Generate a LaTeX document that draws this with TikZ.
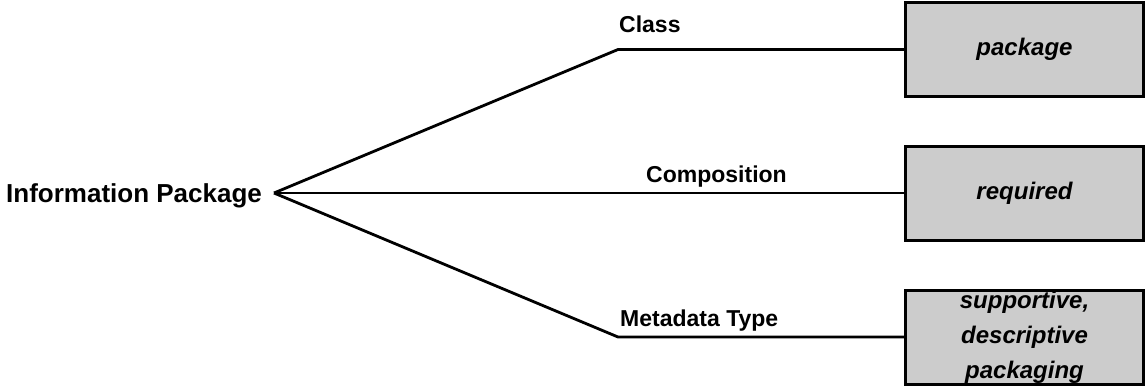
\documentclass[tikz,border=0pt]{standalone}
\usepackage{fontspec}
\setmainfont{Liberation Sans}
\begin{document}
\begin{tikzpicture}[x=1pt,y=-1pt,
  link/.style={line width=2.8pt},
  valuebox/.style={draw, line width=3pt, fill=boxgray, minimum width=238pt,
    minimum height=94pt, inner sep=0pt, align=center,
    font=\bfseries\itshape\fontsize{24}{35}\selectfont},
  lbl/.style={anchor=base west, inner sep=0pt, font=\bfseries\fontsize{23}{28}\selectfont}]
\definecolor{boxgray}{RGB}{204,204,204}
\useasboundingbox (0,0) rectangle (1146,386);

% root of the fan and its title
\coordinate (root) at (274,193);
\node[anchor=base west, inner sep=0pt, font=\bfseries\fontsize{26}{30}\selectfont] (title) at (6,202) {Information Package};

% value boxes on the right
\node[valuebox] (b1) at (1024.5,49.5) {package};
\node[valuebox] (b2) at (1024.5,193) {required};
\node[valuebox] (b3) at (1024.5,337) {supportive,\\descriptive\\packaging};

% bends of the outer branches
\coordinate (k1) at (618,49.5);
\coordinate (k3) at (618,337);

% branches
\draw[link] (root) -- (k1) -- (b1.west);
\draw[link] (root) -- (b2.west);
\draw[link] (root) -- (k3) -- (b3.west);

% branch labels
\node[lbl] (l1) at (619,32) {Class};
\node[lbl] (l2) at (646,182) {Composition};
\node[lbl] (l3) at (620,326) {Metadata Type};
\end{tikzpicture}
\end{document}
